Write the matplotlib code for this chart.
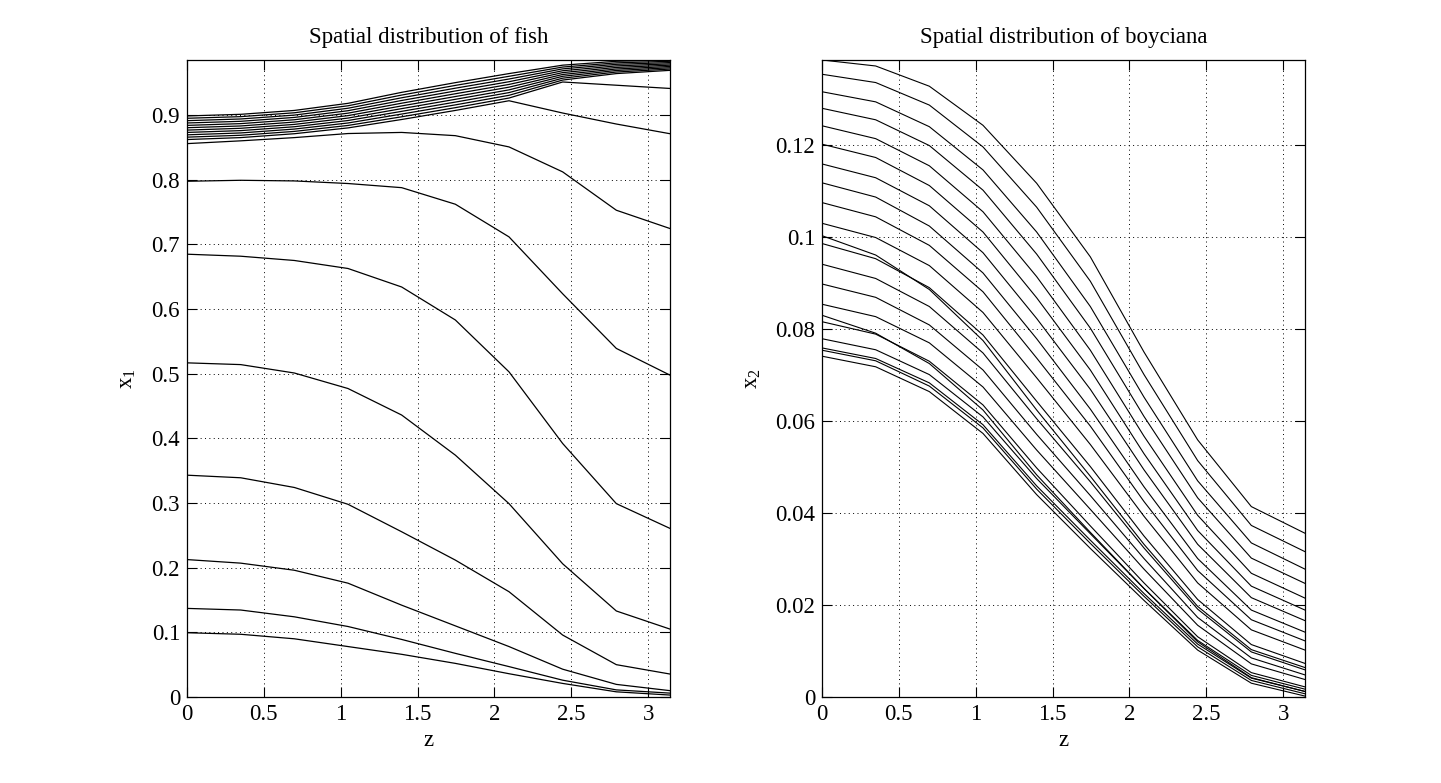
import numpy as np
import matplotlib
matplotlib.use("Agg")
import matplotlib.pyplot as plt

plt.rcParams['font.family'] = ['Liberation Serif', 'DejaVu Serif']
plt.rcParams['mathtext.fontset'] = 'custom'
plt.rcParams['mathtext.rm'] = 'Liberation Serif'
plt.rcParams['mathtext.it'] = 'Liberation Serif'

# spatial grid (10 nodes from 0 to pi)
z = np.linspace(0, np.pi, 10)

# ---------------- fish (x1) snapshots ----------------
fish_A = [0.0994, 0.097, 0.090, 0.078, 0.066, 0.052, 0.036, 0.021, 0.008, 0.003]
fish_B = [0.137, 0.1345, 0.124, 0.109, 0.089, 0.0675, 0.047, 0.026, 0.011, 0.006]
fish_C = [0.2125, 0.207, 0.196, 0.176, 0.142, 0.110, 0.078, 0.043, 0.0195, 0.0098]
fish_D = [0.343, 0.339, 0.324, 0.298, 0.2555, 0.2117, 0.1628, 0.0958, 0.050, 0.0355]
fish_E = [0.5167, 0.514, 0.501, 0.477, 0.436, 0.374, 0.299, 0.206, 0.133, 0.105]
fish_F = [0.6847, 0.6816, 0.675, 0.6626, 0.634, 0.583, 0.5028, 0.392, 0.299, 0.2607]
fish_G = [0.7975, 0.799, 0.798, 0.794, 0.7876, 0.762, 0.7115, 0.6235, 0.539, 0.4977]
fish_H = [0.8557, 0.860, 0.865, 0.8713, 0.873, 0.868, 0.8506, 0.812, 0.7527, 0.7244]
fish_c01 = [0.8620, 0.8650, 0.8710, 0.8800, 0.8930, 0.9070, 0.9220, 0.9030, 0.8860, 0.8710]
fish_c02 = [0.8657, 0.8686, 0.8746, 0.8838, 0.8972, 0.9113, 0.9262, 0.9510, 0.9460, 0.9410]
fish_c03 = [0.8693, 0.8722, 0.8782, 0.8876, 0.9014, 0.9156, 0.9304, 0.9540, 0.9640, 0.9690]
fish_c04 = [0.8730, 0.8758, 0.8818, 0.8914, 0.9056, 0.9199, 0.9346, 0.9569, 0.9664, 0.9710]
fish_c05 = [0.8766, 0.8794, 0.8854, 0.8952, 0.9098, 0.9242, 0.9388, 0.9598, 0.9688, 0.9730]
fish_c06 = [0.8803, 0.8830, 0.8890, 0.8990, 0.9140, 0.9285, 0.9430, 0.9626, 0.9711, 0.9750]
fish_c07 = [0.8839, 0.8866, 0.8926, 0.9028, 0.9182, 0.9328, 0.9472, 0.9655, 0.9735, 0.9770]
fish_c08 = [0.8876, 0.8902, 0.8962, 0.9066, 0.9224, 0.9371, 0.9514, 0.9684, 0.9759, 0.9790]
fish_c09 = [0.8912, 0.8938, 0.8998, 0.9104, 0.9266, 0.9414, 0.9556, 0.9713, 0.9783, 0.9810]
fish_c10 = [0.8949, 0.8974, 0.9034, 0.9142, 0.9308, 0.9457, 0.9598, 0.9741, 0.9806, 0.9830]
fish_c11 = [0.8985, 0.9010, 0.9070, 0.9180, 0.9350, 0.9500, 0.9640, 0.9770, 0.9830, 0.9850]

fish_series = [fish_A, fish_B, fish_C, fish_D, fish_E, fish_F, fish_G, fish_H,
               fish_c01, fish_c02, fish_c03, fish_c04, fish_c05, fish_c06,
               fish_c07, fish_c08, fish_c09, fish_c10, fish_c11]

# ---------------- boyciana (x2) snapshots ----------------
boy_01 = [0.1385, 0.1372, 0.1328, 0.1243, 0.1117, 0.0957, 0.0750, 0.0559, 0.0414, 0.0356]
boy_02 = [0.1354, 0.1336, 0.1287, 0.1196, 0.1065, 0.0904, 0.0701, 0.0514, 0.0373, 0.0316]
boy_03 = [0.1316, 0.1294, 0.1240, 0.1146, 0.1011, 0.0849, 0.0652, 0.0470, 0.0335, 0.0278]
boy_04 = [0.1280, 0.1255, 0.1199, 0.1102, 0.0963, 0.0802, 0.0610, 0.0433, 0.0302, 0.0247]
boy_05 = [0.1242, 0.1214, 0.1155, 0.1055, 0.0914, 0.0754, 0.0567, 0.0395, 0.0269, 0.0215]
boy_06 = [0.1202, 0.1173, 0.1112, 0.1011, 0.0868, 0.0711, 0.0529, 0.0362, 0.0241, 0.0189]
boy_07 = [0.1159, 0.1129, 0.1068, 0.0966, 0.0823, 0.0669, 0.0494, 0.0332, 0.0216, 0.0166]
boy_08 = [0.1118, 0.1087, 0.1024, 0.0922, 0.0779, 0.0626, 0.0457, 0.0301, 0.0189, 0.0141]
boy_09 = [0.1075, 0.1044, 0.0982, 0.0881, 0.0737, 0.0589, 0.0425, 0.0275, 0.0168, 0.0122]
boy_10 = [0.1030, 0.0999, 0.0938, 0.0836, 0.0694, 0.0549, 0.0393, 0.0248, 0.0146, 0.0102]
boy_11 = [0.1003, 0.0961, 0.0886, 0.0775, 0.0624, 0.0480, 0.0332, 0.0197, 0.0103, 0.0064]
boy_12 = [0.0986, 0.0953, 0.0890, 0.0787, 0.0643, 0.0501, 0.0350, 0.0212, 0.0114, 0.0073]
boy_13 = [0.0941, 0.0910, 0.0849, 0.0748, 0.0605, 0.0468, 0.0324, 0.0191, 0.0098, 0.0059]
boy_14 = [0.0898, 0.0869, 0.0809, 0.0711, 0.0571, 0.0438, 0.0301, 0.0173, 0.0085, 0.0048]
boy_15 = [0.0854, 0.0827, 0.0770, 0.0674, 0.0537, 0.0408, 0.0278, 0.0156, 0.0072, 0.0038]
boy_16 = [0.0830, 0.0791, 0.0725, 0.0624, 0.0483, 0.0358, 0.0236, 0.0120, 0.0042, 0.0012]
boy_17 = [0.0816, 0.0789, 0.0730, 0.0635, 0.0498, 0.0372, 0.0248, 0.0131, 0.0053, 0.0022]
boy_18 = [0.0779, 0.0755, 0.0701, 0.0609, 0.0475, 0.0355, 0.0236, 0.0123, 0.0047, 0.0017]
boy_19 = [0.0759, 0.0736, 0.0683, 0.0592, 0.0459, 0.0341, 0.0225, 0.0115, 0.0041, 0.0012]
boy_20 = [0.0754, 0.0731, 0.0676, 0.0585, 0.0452, 0.0334, 0.0219, 0.0109, 0.0036, 0.0007]
boy_21 = [0.0741, 0.0718, 0.0664, 0.0573, 0.0440, 0.0323, 0.0210, 0.0102, 0.0030, 0.0002]

boy_series = [boy_01, boy_02, boy_03, boy_04, boy_05, boy_06, boy_07, boy_08, boy_09,
              boy_10, boy_11, boy_12, boy_13, boy_14, boy_15, boy_16, boy_17, boy_18,
              boy_19, boy_20, boy_21]

xticks = [0, 0.5, 1, 1.5, 2, 2.5, 3]
xticklabels = ['0', '0.5', '1', '1.5', '2', '2.5', '3']
fish_yticks = [0, 0.1, 0.2, 0.3, 0.4, 0.5, 0.6, 0.7, 0.8, 0.9]
fish_yticklabels = ['0', '0.1', '0.2', '0.3', '0.4', '0.5', '0.6', '0.7', '0.8', '0.9']
boy_yticks = [0, 0.02, 0.04, 0.06, 0.08, 0.1, 0.12]
boy_yticklabels = ['0', '0.02', '0.04', '0.06', '0.08', '0.1', '0.12']

FS = 16.5

fig = plt.figure(figsize=(14.41, 7.83), dpi=100)
ax1 = fig.add_axes([187/1441, 86/783, 483/1441, 637/783])
ax2 = fig.add_axes([822/1441, 86/783, 483/1441, 637/783])


def style(ax, yticks, yticklabels, ymax, title, ylabel, ylpad):
    ax.set_xlim(0, np.pi)
    ax.set_ylim(0, ymax)
    ax.set_xticks(xticks)
    ax.set_xticklabels(xticklabels)
    ax.set_yticks(yticks)
    ax.set_yticklabels(yticklabels)
    ax.tick_params(direction='in', length=7, width=0.8, top=True, right=True,
                   labelsize=FS, pad=5, colors='black')
    ax.grid(True, color='black', linestyle=(0, (1, 3.5)), linewidth=0.7)
    for s in ax.spines.values():
        s.set_linewidth(0.9)
        s.set_color('black')
    ax.set_title(title, fontsize=FS, pad=12)
    ax.set_xlabel('z', fontsize=FS, labelpad=4)
    ax.set_ylabel(ylabel, fontsize=FS, labelpad=ylpad)


for s in fish_series:
    ax1.plot(z, s, color='black', linewidth=0.9)
for s in boy_series:
    ax2.plot(z, s, color='black', linewidth=0.8)

style(ax1, fish_yticks, fish_yticklabels, 0.985, 'Spatial distribution of fish',
      r'x$_\mathregular{1}$', 10)
style(ax2, boy_yticks, boy_yticklabels, 0.1385, 'Spatial distribution of boyciana',
      r'x$_\mathregular{2}$', 9)

fig.savefig('out.png', dpi=100, facecolor='white')
